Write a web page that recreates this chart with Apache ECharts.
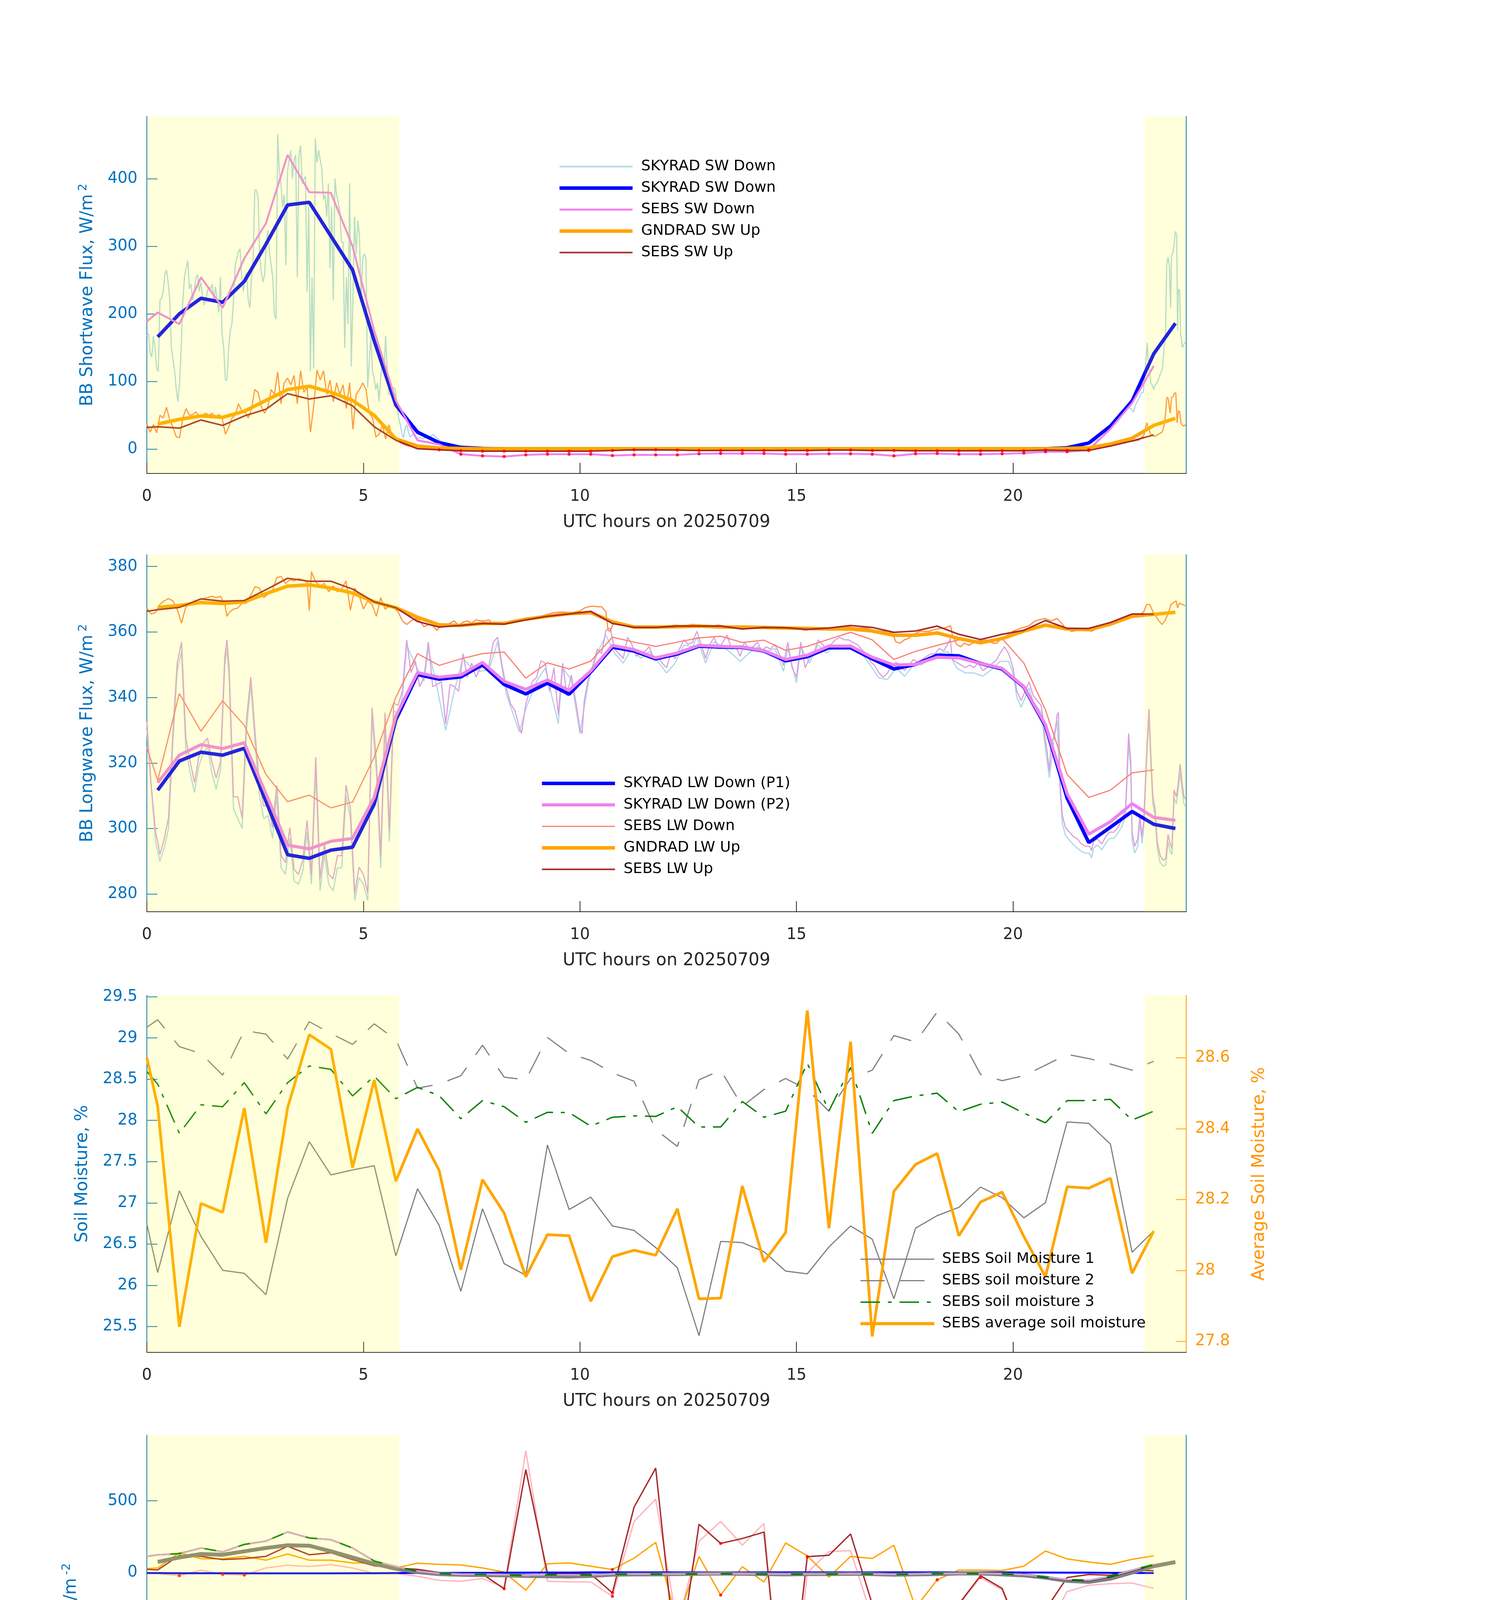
<!DOCTYPE html>
<html><head><meta charset="utf-8">
<script src="https://cdn.jsdelivr.net/npm/echarts@6/dist/echarts.min.js"></script>
<style>html,body{margin:0;padding:0;background:#fff}#c{width:3825px;height:4875px}</style>
</head><body><div id="c"></div>
<script>
// ---------- time bases ----------
const HH = []; for (let i = 0; i < 48; i++) HH.push(0.25 + 0.5 * i);   // half-hour centres 0.25 .. 23.75
const T0 = [0].concat(HH.slice(0, 47));                                 // SEBS / ECOR times 0, 0.25 .. 23.25
const SHADE = [[0, 5.83], [23.04, 24]];
const X_TICKS = [0, 5, 10, 15, 20];

// ---------- panel 1 : shortwave ----------
const DT_SW_THIN = 0.03776;
const skySWthin = [167,171,143,136,167,150,119,115,220,223,233,258,265,247,220,150,133,115,88,70,
 98,150,220,254,268,279,237,244,220,233,254,258,233,247,227,213,220,233,240,237,
 244,220,240,220,202,254,171,150,102,102,150,175,185,220,272,282,292,296,254,233,
 254,261,220,209,254,282,383,383,372,289,261,247,258,303,324,289,272,254,199,192,
 466,410,393,358,376,272,410,428,442,400,428,435,254,435,449,393,400,403,233,358,
 115,254,119,459,424,442,428,414,369,376,344,393,268,358,220,400,376,365,351,306,
 306,150,254,185,393,122,220,344,289,338,317,220,282,289,282,91,129,167,115,105,
 88,98,70,105,133,115,167,115,81,81,88,91,88,63,46,36,22,17,32,36,
 25,18,20,22,18,15,16,17,16,15,17,18,19,17,20,22,19,17,15,13];
const skySWthinTail = [[6.8,10],[6.9,8],[7.0,6],[7.2,4],[7.5,2],[7.8,1],[8.5,0.5],[10,0.3],[12,0.3],[14,0.3],[16,0.3],[18,0.3],[20,0.3],[20.8,0.6],[21.2,1.5],[21.5,4],[21.8,9],[22.0,16],[22.2,26],[22.4,40],[22.55,52],[22.65,62],[22.72,60],[22.78,55],[22.84,67],[22.90,74],[22.96,83],[23.01,84],[23.04,109],[23.07,133],[23.10,157],[23.12,133],[23.15,119],[23.18,98],[23.21,95],[23.25,88],[23.28,95],[23.33,98],[23.39,109],[23.45,119],[23.49,150],[23.52,168],[23.55,272],[23.58,284],[23.61,272],[23.64,209],[23.66,286],[23.69,289],[23.72,303],[23.75,322],[23.78,317],[23.80,175],[23.82,237],[23.85,234],[23.87,168],[23.89,164],[23.91,150],[23.94,154],[23.99,159]];
const DT_GND_THIN = 0.07553;
const gndSWthin = [37,25,36,24,50,46,62,43,32,18,17,46,60,50,51,55,48,50,53,50,53,46,51,46,22,32,46,50,67,57,55,46,60,88,84,63,53,63,88,81,114,67,98,105,95,109,67,116,84,91,25,63,117,102,116,81,102,70,98,81,95,60,98,29,81,88,98,88,53,46,18,22,36,15,36,18,15,11,8,6,4.5,4.5,4,3.5,3];
const gndSWthinTail = [[6.5,2.5],[7,1],[8,0.5],[12,0.5],[16,0.5],[20,0.5],[21.5,1.5],[22,4],[22.4,9],[22.75,11.6],[22.90,13],[23.02,20],[23.09,39],[23.12,32],[23.18,22],[23.27,18.6],[23.36,22],[23.45,25.5],[23.49,36],[23.52,50],[23.55,76],[23.58,76],[23.63,53],[23.66,76],[23.70,78],[23.73,83],[23.76,83],[23.79,39],[23.82,57],[23.85,55],[23.88,38],[23.93,34],[23.99,36]];
const skySW = [166,200,223,217,248,303,361,365,315,265,160,65,25,9.5,2.5,1,
 0.3,0.3,0.3,0.3,0.3,0.3,0.3,0.3,0.3,0.3,0.3,0.3,0.3,0.3,0.3,0.3,0.3,0.3,0.3,0.3,0.3,0.3,0.3,0.3,0.3,
 0.5,2,9,34,71,141,186];
const sebsSWdown = [189,202,185,254,209,282,334,435,380,379,300,175,72,13,7,-7.5,-10,-11,-8.5,-7.5,-7.5,-7.5,-9.5,-8.5,-8.5,-8.5,-7,-6.5,-6.5,-6.5,-7.5,-7.5,-7,-7,-7.5,-10,-7,-6.5,-7.5,-7.5,-7,-6,-4,-4,-1,30,68,123];
const gndSW = [37,44,49,47,56,72,88,93,84,72,50,15,4.5,1.5,1,0.6,
 0.5,0.5,0.5,0.5,0.5,0.5,0.5,0.5,0.5,0.5,0.5,0.5,0.5,0.5,0.5,0.5,0.5,0.5,0.5,0.5,0.5,0.5,0.5,0.5,0.5,
 0.6,1,2,7.5,16,35,45.5];
const sebsSWup = [32,33,31,43,35,49,59,82,74,79,64,33,13,0.5,-1,-2.5,-3,-3,-3,-3,-3,-3,-2,-1,-1,-1.5,-2,-2,-2,-2,-2,-2,-1.5,-1.5,-2,-2,-2.5,-2.5,-2.5,-2.5,-2.5,-2.5,-1.5,-2,-2,4.5,12,21];

// ---------- panel 2 : longwave ----------
const lwP2thin = [[0,332.6],[0.1,313.2],[0.2,298.9],[0.25,296],[0.3,292],[0.4,296.8],[0.5,303.2],[0.6,329.0],[0.7,350.5],[0.8,356.9],[0.9,327.6],[1.0,320.4],[1.1,314.0],[1.2,321.8],[1.3,326.1],[1.4,327.6],[1.5,320.4],[1.6,315.4],[1.7,320.4],[1.8,352.6],[1.85,357.6],[1.9,349.1],[2.0,309.7],[2.1,309.7],[2.2,303.2],[2.3,333.3],[2.4,346.2],[2.5,329.0],[2.6,313.2],[2.7,306.8],[2.8,307.5],[2.9,300.3],[3.0,313.2],[3.1,291.7],[3.2,289.6],[3.3,300.3],[3.4,287.5],[3.5,286.0],[3.6,290.3],[3.7,302.5],[3.8,286.0],[3.9,321.8],[4.0,284.6],[4.1,295.3],[4.2,286.0],[4.3,284.6],[4.4,291.7],[4.5,291.7],[4.6,313.2],[4.7,306.1],[4.8,280.3],[4.9,288.2],[5.0,286.0],[5.1,280.3],[5.2,336.9],[5.3,320.4],[5.4,291.7],[5.5,335.4],[5.6,299.6],[5.7,338.3],[5.8,337.6],[5.9,341.9],[6.0,357.6],[6.1,347.6],[6.2,351.2],[6.3,343.3],[6.4,346.2],[6.5,356.9],[6.6,343.3],[6.7,344.0],[6.8,344.8],[6.9,331.9],[7.0,344.0],[7.1,343.3],[7.2,341.9],[7.3,353.4],[7.4,346.2],[7.5,350.5],[7.6,346.2],[7.7,349.1],[7.8,349.1],[7.9,349.8],[8.0,356.9],[8.1,358.4],[8.2,350],[8.3,343],[8.4,338],[8.5,336],[8.6,331],[8.65,329],[8.75,338],[8.9,344.8],[9.0,346.2],[9.1,351.2],[9.2,350.5],[9.3,341.9],[9.4,349.1],[9.5,334.7],[9.6,350.5],[9.7,340.5],[9.8,346.9],[9.9,339.0],[10.0,330.4],[10.05,329.0],[10.1,339.0],[10.2,346.2],[10.3,349.8],[10.4,354.8],[10.5,353.4],[10.6,360.5],[10.7,361.2],[10.8,354.8],[10.9,353.4],[11.0,351.9],[11.1,358.4],[11.2,356.2],[11.3,352.6],[11.4,353.4],[11.5,354.1],[11.6,355.5],[11.7,351.9],[11.8,352.6],[11.9,350.5],[12.0,349.1],[12.1,353.4],[12.2,351.9],[12.3,354.8],[12.4,357.6],[12.5,356.2],[12.6,356.9],[12.7,360.2],[12.8,356.2],[12.9,351.9],[13.0,356.2],[13.1,358.4],[13.2,354.8],[13.3,356.9],[13.4,359.1],[13.5,354.8],[13.6,355.5],[13.7,352.6],[13.8,356.9],[13.9,354.8],[14.0,355.5],[14.1,356.9],[14.2,354.1],[14.3,355.5],[14.4,354.8],[14.5,356.2],[14.6,353.4],[14.7,349.8],[14.8,356.9],[14.9,349.1],[15.0,346.2],[15.1,356.9],[15.2,349.1],[15.3,351.9],[15.4,353.4],[15.5,357.6],[15.6,356.2],[15.7,354.8],[15.8,356.2],[15.9,357.6],[16.0,358.4],[16.1,357.6],[16.2,357.6],[16.3,356.9],[16.4,356.2],[16.5,354.8],[16.6,353.4],[16.7,351.2],[16.8,349.8],[16.9,347.6],[17.0,346.2],[17.1,347.4],[17.2,349.9],[17.3,350.7],[17.4,349.9],[17.5,348.2],[17.6,349.9],[17.7,351.6],[17.8,350.7],[17.9,351.6],[18.0,352.5],[18.1,353.3],[18.2,353.3],[18.3,355.0],[18.4,354.2],[18.5,356.5],[18.55,358],[18.6,351.6],[18.7,350.7],[18.8,349.9],[18.9,349.1],[19.0,349.9],[19.1,349.1],[19.2,350.7],[19.3,348.2],[19.4,349.1],[19.5,350.2],[19.6,351.2],[19.7,353.4],[19.8,355.5],[19.9,353.4],[20.0,349.1],[20.09,341.9],[20.19,339.0],[20.28,341.9],[20.37,344.8],[20.47,340.5],[20.56,339.0],[20.65,337.6],[20.70,333.3],[20.74,327.6],[20.79,323.3],[20.84,317.5],[20.88,326.1],[20.93,327.6],[20.98,330.4],[21.02,334.7],[21.05,335.4],[21.09,313.2],[21.14,303.9],[21.21,300.3],[21.30,298.9],[21.40,297.5],[21.49,296.8],[21.58,295.3],[21.67,294.6],[21.77,294.6],[21.81,293.2],[21.86,296.0],[21.95,296.8],[22.05,295.3],[22.14,297.5],[22.23,298.9],[22.33,298.9],[22.42,300.3],[22.51,302.5],[22.60,306.1],[22.67,329.0],[22.72,320.4],[22.75,298.9],[22.81,294.6],[22.88,296.8],[22.93,303.9],[22.98,297.5],[23.02,302.5],[23.09,324.5],[23.14,336.5],[23.19,320.4],[23.23,309.7],[23.28,306.1],[23.33,296.0],[23.40,291.7],[23.47,290.3],[23.53,291.0],[23.58,298.2],[23.63,295.3],[23.67,293.9],[23.72,311.8],[23.77,309.7],[23.81,313.2],[23.86,319.7],[23.91,313.2],[23.95,309.7],[23.99,308.9]];
const lwP1thin = [[0,330],[0.2,296],[0.3,290],[0.4,294],[0.5,300],[0.6,326],[0.7,348],[0.8,354],[0.9,324],[1.0,317],[1.1,311],[1.2,319],[1.3,323],[1.4,325],[1.5,317],[1.6,312],[1.7,318],[1.8,350],[1.85,355],[1.9,346],[2.0,306],[2.2,300],[2.3,330],[2.4,344],[2.5,326],[2.6,310],[2.7,303],[2.8,304],[2.9,297],[3.0,310],[3.1,288],[3.2,286],[3.3,297],[3.4,284],[3.5,283],[3.6,287],[3.7,299],[3.8,283],[3.9,318],[4.0,281],[4.1,292],[4.2,283],[4.3,281],[4.4,288],[4.5,288],[4.6,310],[4.7,303],[4.8,278],[4.9,285],[5.0,283],[5.1,278],[5.2,334],[5.3,317],[5.4,288],[5.5,332],[5.6,296],[5.7,336],[5.8,335],[5.9,340],[6.0,356],[6.2,350],[6.4,345],[6.5,355],[6.7,343],[6.9,330],[7.1,342],[7.3,352],[7.5,349],[7.7,348],[7.9,348.5],[8.1,357],[8.3,341],[8.6,329.5],[8.75,336.5],[9.0,345],[9.2,349],[9.5,332],[9.6,349],[9.8,345.5],[10.0,329],[10.2,345],[10.4,353.5],[10.6,359],[10.8,353.5],[11.0,350.5],[11.2,355],[11.4,352],[11.6,354],[11.8,351],[12.0,347.5],[12.2,350.5],[12.4,356],[12.6,355.5],[12.7,358.5],[12.9,350.5],[13.1,357],[13.3,355.5],[13.5,353.5],[13.7,351],[13.9,353.5],[14.1,355.5],[14.3,354],[14.5,355],[14.7,348],[14.8,355],[15.0,344.5],[15.1,355.5],[15.3,350.5],[15.5,356],[15.7,353.5],[15.9,356],[16.1,356],[16.3,355.5],[16.5,353.5],[16.7,350],[16.9,346],[17.1,345.5],[17.3,349],[17.5,346.5],[17.7,350],[17.9,350],[18.1,352],[18.3,353.5],[18.5,354],[18.7,349],[18.9,347.5],[19.1,347.5],[19.3,346.5],[19.5,348.5],[19.7,351],[19.9,351],[20.0,347.5],[20.09,340],[20.19,337],[20.28,340],[20.37,343],[20.47,338.5],[20.56,337],[20.65,335.5],[20.74,325.5],[20.84,315.5],[20.93,325.5],[21.02,333],[21.09,311],[21.14,301.5],[21.21,298],[21.30,296.5],[21.40,295],[21.49,294],[21.58,293],[21.67,292.5],[21.77,292.5],[21.81,291],[21.86,294],[21.95,295],[22.05,293.5],[22.14,295.5],[22.23,297],[22.33,297],[22.42,298.5],[22.51,300.5],[22.60,304],[22.67,326],[22.72,318],[22.75,296.5],[22.81,292.5],[22.88,294.5],[22.93,302],[22.98,295.5],[23.02,300.5],[23.09,322],[23.14,334],[23.19,318],[23.23,307.5],[23.28,304],[23.33,294],[23.40,289.5],[23.47,288.5],[23.53,289],[23.58,296],[23.63,293],[23.67,292],[23.72,309.5],[23.77,307.5],[23.81,311],[23.86,317],[23.91,311],[23.95,307.5],[23.99,306.5]];
const gndLWthin = [[0,367.3],[0.1,365.5],[0.2,365.9],[0.3,368.4],[0.4,369.5],[0.5,370.2],[0.6,369.5],[0.7,367.0],[0.8,362.7],[0.9,367.7],[1.0,368.4],[1.1,369.5],[1.2,369.8],[1.3,370.2],[1.4,370.5],[1.5,370.9],[1.6,370.5],[1.7,370.9],[1.8,368.4],[1.85,364.8],[1.9,365.9],[2.0,367.0],[2.1,367.3],[2.2,368.8],[2.3,368.8],[2.4,371.3],[2.5,373.8],[2.6,373.4],[2.7,370.5],[2.8,371.6],[2.9,372.7],[3.0,376.6],[3.1,377.0],[3.2,374.8],[3.3,375.9],[3.4,375.6],[3.5,376.3],[3.6,375.9],[3.7,375.2],[3.75,366.6],[3.8,378.4],[3.9,375.2],[4.0,374.1],[4.1,374.8],[4.2,372.3],[4.3,374.1],[4.4,372.3],[4.5,373.1],[4.6,375.6],[4.7,366.6],[4.8,373.4],[4.9,371.3],[5.0,367.0],[5.1,369.5],[5.2,368.4],[5.3,364.8],[5.4,370.5],[5.5,367.0],[5.6,368.0],[5.7,367.3],[5.8,366.2],[5.9,363.4],[6.0,362.3],[6.1,363.4],[6.2,364.1],[6.3,363.4],[6.4,361.6],[6.5,362.3],[6.6,361.9],[6.7,360.5],[6.8,362.3],[6.9,361.9],[7.0,362.7],[7.1,363.4],[7.2,361.9],[7.3,363.0],[7.4,363.4],[7.5,362.7],[7.6,363.7],[7.7,363.4],[7.8,363.4],[7.9,363.7],[8.0,362.3],[8.1,363.0],[8.25,362.5],[8.5,363.5],[8.75,364],[8.9,364.1],[9.0,364.5],[9.2,365.2],[9.4,365.9],[9.6,366.1],[9.8,365.9],[10.0,366.4],[10.1,367.3],[10.2,367.7],[10.3,367.9],[10.4,367.7],[10.5,367.7],[10.6,366.2],[10.65,360.5],[10.7,360.2],[10.75,361.9],[10.8,363.0],[11.0,362.3],[11.2,361.8],[11.4,361.2],[11.6,361.4],[11.8,361.6],[12.0,361.8],[12.2,362.1],[12.4,361.9],[12.6,362.3],[12.8,362.1],[13.0,361.8],[13.2,362.1],[13.4,361.6],[13.6,361.6],[13.8,361.2],[14.0,361.6],[14.2,361.2],[14.4,361.4],[14.6,360.9],[14.8,361.2],[15.0,361.1],[15.2,360.5],[15.4,361.2],[15.6,360.9],[15.8,361.2],[16.0,361.4],[16.2,361.6],[16.4,361.2],[16.6,361.2],[16.8,360.5],[17.0,360.2],[17.12,360.2],[17.21,359.8],[17.30,356.9],[17.40,356.6],[17.49,357.6],[17.58,358.0],[17.72,359.4],[17.86,360.2],[18.05,360.2],[18.23,360.9],[18.42,361.2],[18.56,361.9],[18.60,359.1],[18.70,356.2],[18.79,355.5],[18.88,356.6],[18.98,355.9],[19.07,356.6],[19.16,357.3],[19.26,356.9],[19.35,357.6],[19.44,357.3],[19.53,356.6],[19.63,356.6],[19.72,358.0],[19.81,358.4],[19.91,359.4],[20.00,360.2],[20.19,361.2],[20.37,361.9],[20.51,363.4],[20.60,363.7],[20.74,364.1],[20.88,363.4],[21.02,364.1],[21.12,362.7],[21.21,361.2],[21.35,360.2],[21.49,360.5],[21.67,360.9],[21.81,360.2],[21.95,361.2],[22.09,361.6],[22.23,362.7],[22.37,363.4],[22.51,363.7],[22.65,364.8],[22.79,365.2],[22.93,365.2],[23.02,366.2],[23.09,368.4],[23.16,368.4],[23.23,366.2],[23.30,364.8],[23.37,363.4],[23.44,362.3],[23.51,363.4],[23.58,365.5],[23.65,368.4],[23.72,369.1],[23.77,369.5],[23.80,367.3],[23.84,368.8],[23.91,368.4],[23.98,368.0]];
const skyLWp1 = [311.7,320.6,323.3,322.4,324.5,308.3,292.0,290.9,293.4,294.3,307.5,333.2,347.0,345.6,346.3,350.0,344.0,341.1,344.4,341.0,347.8,355.4,354.2,351.8,353.3,355.7,355.4,355.3,354.2,351.2,352.5,355.2,355.2,351.8,348.7,350.1,352.9,352.7,350.4,348.7,343.2,331.3,309.3,295.7,300.4,305.2,301.3,300.0];
const skyLWp2 = [314.0,322.4,325.6,324.4,326.2,310.6,294.9,293.8,296.1,297.0,309.5,334.3,347.6,346.2,346.9,350.7,344.9,342.5,345.3,342.2,348.1,355.9,354.6,352.1,353.6,355.9,355.6,355.4,354.3,351.6,352.9,355.7,355.7,352.3,349.9,350.1,352.3,352.1,350.4,348.9,343.3,331.7,310.6,298.3,302.1,307.6,303.4,302.5];
const sebsLWdown = [324.7,314.7,341.2,329.7,339.0,331.5,316.5,308.2,310.2,306.3,308.1,321.8,340.1,353.4,349.8,351.8,353.4,353.9,345.9,350.6,348.7,351.1,358.4,356.9,355.6,356.9,358.2,358.7,356.8,357.5,354.4,355.6,357.8,359.9,357.6,351.6,354.1,355.9,357.6,357.3,358.0,350.5,336.2,316.5,309.5,311.7,317.0,317.9];
const gndLW = [367.5,368.1,369.0,368.7,369.2,371.7,374.0,374.4,373.4,371.9,369.2,367.4,364.5,362.2,362.0,362.6,362.6,363.9,364.8,365.6,365.9,363.1,361.5,361.5,361.6,361.8,361.5,361.5,361.4,361.2,361.1,360.9,360.9,360.3,359.0,359.0,359.7,358.0,356.7,358.0,360.3,362.1,360.9,360.7,362.4,364.8,365.4,366.0];
const sebsLWup = [366.3,366.8,367.5,370.1,369.4,369.6,372.9,376.4,375.5,375.5,373.1,369.2,367.4,363.2,361.5,362.0,362.6,362.4,363.7,364.8,365.5,366.3,362.6,361.4,361.4,361.8,361.8,361.8,360.9,361.4,361.3,360.8,361.2,362.0,361.4,359.9,360.3,361.8,359.3,357.7,359.3,360.5,363.5,361.1,361.1,362.9,365.5,365.4];

// ---------- panel 3 : soil moisture ----------
const sm1 = [26.744,26.155,27.147,26.592,26.182,26.145,25.887,27.056,27.742,27.339,27.399,27.450,26.357,27.171,26.727,25.927,26.929,26.263,26.122,27.702,26.919,27.070,26.720,26.666,26.458,26.213,25.389,26.532,26.518,26.408,26.172,26.139,26.465,26.720,26.559,25.836,26.693,26.845,26.945,27.191,27.063,26.818,27.003,27.981,27.964,27.712,26.401,26.660];
const sm2 = [29.130,29.221,28.895,28.811,28.549,29.090,29.046,28.744,29.197,29.053,28.922,29.171,28.979,28.391,28.441,28.542,28.912,28.525,28.492,29.006,28.811,28.727,28.576,28.475,27.887,27.685,28.492,28.609,28.172,28.374,28.508,28.374,28.112,28.508,28.609,29.029,28.952,29.315,29.046,28.559,28.482,28.542,28.670,28.801,28.750,28.683,28.609,28.717];
const sm3 = [28.592,28.441,27.843,28.189,28.166,28.458,28.079,28.458,28.660,28.619,28.297,28.536,28.263,28.401,28.300,28.021,28.240,28.166,27.977,28.098,28.095,27.930,28.038,28.055,28.048,28.166,27.920,27.920,28.229,28.038,28.112,28.693,28.115,28.643,27.843,28.240,28.297,28.330,28.105,28.196,28.223,28.088,27.971,28.240,28.240,28.256,28.004,28.112];
const smAvg = [28.600,28.463,27.841,28.189,28.164,28.458,28.078,28.459,28.665,28.624,28.290,28.537,28.252,28.399,28.282,28.002,28.256,28.162,27.982,28.101,28.098,27.913,28.039,28.057,28.043,28.174,27.920,27.922,28.238,28.024,28.107,28.733,28.119,28.645,27.814,28.223,28.299,28.330,28.098,28.193,28.221,28.096,27.982,28.236,28.232,28.260,27.992,28.111];

// ---------- panel 4 : surface fluxes ----------
const ecorSens = [-3,-7,-22,16,-13,-18,32,51,42,55,32,-7,-7,-26,-55,-61,-42,-104,848,-61,-65,-66,-166,356,511,-368,218,356,191,342,-1419,-3,147,152,-320,-930,-190,-489,-225,-35,-122,-535,-411,-133,-89,-78,-73,-111];
const ecorLat = [28,32,138,96,96,113,86,129,86,86,67,65,32,65,57,53,32,3,-123,61,67,44,21,100,210,-345,112,-157,40,-66,206,116,-32,112,98,190,-244,-51,17,17,14,44,150,95,73,57,92,116];
const ecorSum = [22,18,119,113,90,97,113,183,124,138,90,47,32,22,0,-16,-11,-113,718,-7,-7,-11,-142,456,728,-703,337,203,237,282,-1210,111,120,269,-220,-739,-418,-536,-220,-22,-111,-490,-259,-35,-14,-19,16,13];
const soilHeat = [-4,-4,-5,-5,-5,-6,-6,-6,-6,-6,-5,-5,-4,-3,-3,-2,-2,-1,-1,0,0,1,1,1,1,1,1,1,1,1,1,1,1,1,1,1,1,1,1,1,1,0,0,-1,-1,-2,-3,-4];
const netRadSkyGnd = [74,105,129,124,148,171,190,187,148,105,61,26,3,-11,-16,-18,-20,-24,-26,-28,-24,-15,-13,-13,-11,-9,-7,-9,-11,-13,-11,-11,-9,-11,-15,-13,-11,-7,-7,-13,-20,-36,-58,-66,-43,0,44,73];
const sebsNet = [113,123,132,171,144,196,219,283,241,229,171,80,42,9,-7,-13,-13,-15,-20,-16,-16,-18,-11,-11,-11,-11,-9,-9,-9,-11,-11,-11,-11,-9,-11,-13,-11,-8,-8,-8,-9,-18,-36,-53,-58,-31,12,53];
const sebsEbal = [113,123,132,171,144,196,219,283,241,229,171,80,42,9,-7,-13,-13,-15,-20,-16,-16,-18,-11,-11,-11,-11,-9,-9,-9,-11,-11,-11,-11,-9,-11,-13,-11,-8,-8,-8,-9,-16,-32,-49,-54,-27,16,57];
const sebsNetSoil = [113,123,132,171,144,196,219,283,241,229,171,80,42,9,-7,-13,-13,-15,-20,-16,-16,-18,-11,-11,-11,-11,-9,-9,-9,-11,-11,-11,-11,-9,-11,-13,-11,-8,-8,-8,-9,-16,-32,-49,-54,-27,16,57];
const SENS_FLAG = [0.75,1.75,2.25,10.75,12.25,14.75,16.75,17.25,18.25,19.25,20.25,20.75];
const LAT_FLAG = [10.75,12.25,13.25,18.25];
const SUM_FLAG = [8.25,10.75,12.25,13.25,14.75,15.25,16.75,17.25,18.25,20.25,20.75];

// ---------- helpers ----------
const zip = (t, v) => v.map((y, i) => [t[i], y]);
const dense = (dt, v) => v.map((y, i) => [Math.round(i * dt * 10000) / 10000, y]);
const pick = (flags, vals) => flags.map(h => [h, vals[T0.indexOf(h)]]);
const FONT = 'DejaVu Sans';
const BLUE = '#0072bd';
const AXC = '#262626';
const RORANGE = '#ff9500';
const TOPS = [298, 1420, 2548, 3674];
const GH = 914, GL = 376, GW = 2661;
const fmt = v => String(+v.toFixed(2));

const YL = [
  {min: -36, max: 492, ticks: [0,100,200,300,400], name: 'BB Shortwave Flux, W/m{s|2}', gap: 124},
  {min: 274.6, max: 383.6, ticks: [280,300,320,340,360,380], name: 'BB Longwave Flux, W/m{s|2}', gap: 124},
  {min: 25.187, max: 29.517, ticks: [25.5,26,26.5,27,27.5,28,28.5,29,29.5], name: 'Soil Moisture, %', gap: 142},
  {min: -1532, max: 958, ticks: [-1500,-1000,-500,0,500], name: 'Flux, W/m{s|-2}', gap: 166}
];

const xAxes = TOPS.map((t, i) => ({
  gridIndex: i, type: 'value', min: 0, max: 24,
  axisLine: {show: true, onZero: false, lineStyle: {color: AXC, width: 2}},
  axisTick: {show: true, inside: true, length: 27, customValues: X_TICKS, lineStyle: {color: AXC, width: 2}},
  axisLabel: {customValues: X_TICKS, color: AXC, fontSize: 40, fontFamily: FONT, margin: 40},
  splitLine: {show: false},
  name: 'UTC hours on 20250709', nameLocation: 'middle', nameGap: 104,
  nameTextStyle: {fontSize: 44, color: AXC, fontFamily: FONT}
}));

const yAxes = [];
YL.forEach((c, i) => {
  yAxes.push({
    gridIndex: i, type: 'value', position: 'left', min: c.min, max: c.max,
    axisLine: {show: true, onZero: false, lineStyle: {color: BLUE, width: 2}},
    axisTick: {show: true, inside: true, length: 27, customValues: c.ticks, lineStyle: {color: BLUE, width: 2}},
    axisLabel: {customValues: c.ticks, color: BLUE, fontSize: 40, fontFamily: FONT, margin: 24, formatter: fmt},
    splitLine: {show: false},
    name: c.name, nameLocation: 'middle', nameRotate: 90, nameGap: c.gap,
    nameTextStyle: {fontSize: 44, color: BLUE, fontFamily: FONT,
      rich: {s: {fontSize: 30, color: BLUE, fontFamily: FONT, padding: [0, 0, 24, 8]}}}
  });
  if (i === 2) {
    const rt = [27.8, 28, 28.2, 28.4, 28.6];
    yAxes.push({
      gridIndex: i, type: 'value', position: 'right', min: 27.769, max: 28.776,
      axisLine: {show: true, onZero: false, lineStyle: {color: RORANGE, width: 2}},
      axisTick: {show: true, inside: true, length: 27, customValues: rt, lineStyle: {color: RORANGE, width: 2}},
      axisLabel: {customValues: rt, color: RORANGE, fontSize: 40, fontFamily: FONT, margin: 23, formatter: fmt},
      splitLine: {show: false},
      name: 'Average Soil Moisture, %', nameLocation: 'middle', nameRotate: 90, nameGap: 166,
      nameTextStyle: {fontSize: 44, color: RORANGE, fontFamily: FONT}
    });
  } else {
    yAxes.push({
      gridIndex: i, type: 'value', position: 'right', min: c.min, max: c.max,
      axisLine: {show: true, onZero: false, lineStyle: {color: BLUE, width: 2}},
      axisTick: {show: false}, axisLabel: {show: false}, splitLine: {show: false}
    });
  }
});

function L(name, p, data, color, width, extra) {
  return Object.assign({
    name, type: 'line', xAxisIndex: p, yAxisIndex: 2 * p, data,
    showSymbol: false, symbol: 'none', silent: true, animation: false,
    lineStyle: {color, width}, itemStyle: {color}, emphasis: {disabled: true}
  }, extra || {});
}
function dots(p, data) {
  return {type: 'scatter', xAxisIndex: p, yAxisIndex: 2 * p, data, symbol: 'circle', symbolSize: 8,
    itemStyle: {color: '#ff0000'}, silent: true, animation: false, z: 4};
}
function shade(p) {
  return {type: 'line', xAxisIndex: p, yAxisIndex: 2 * p, data: [[0, YL[p].min]], symbol: 'none',
    lineStyle: {width: 0, opacity: 0}, silent: true, animation: false,
    markArea: {silent: true, z: 10, label: {show: false}, itemStyle: {color: 'rgba(255,255,0,0.14)'},
      data: SHADE.map(s => [{xAxis: s[0]}, {xAxis: s[1]}])}};
}

const swDots = zip(T0, sebsSWdown).filter(d => d[0] >= 7.2 && d[0] <= 21.8)
  .concat(zip(T0, sebsSWup).filter(d => d[0] >= 6.7 && d[0] <= 21.8));
const fluxDots = pick(SENS_FLAG, ecorSens).concat(pick(LAT_FLAG, ecorLat), pick(SUM_FLAG, ecorSum));

const series = [
  // panel 1
  L('SKYRAD SW Down', 0, dense(DT_SW_THIN, skySWthin).concat(skySWthinTail), '#add8e6', 3),
  L('gndThinSW', 0, dense(DT_GND_THIN, gndSWthin).concat(gndSWthinTail), '#ff8c42', 3),
  L('SKYRAD SW Down ', 0, zip(HH, skySW), '#0000ff', 9),
  L('SEBS SW Down', 0, zip(T0, sebsSWdown), '#ee82ee', 5),
  L('GNDRAD SW Up', 0, zip(HH, gndSW), '#ffa500', 9),
  L('SEBS SW Up', 0, zip(T0, sebsSWup), '#a52a2a', 4),
  dots(0, swDots),
  shade(0),
  // panel 2
  L('p1thin', 1, lwP1thin, '#add8e6', 3),
  L('p2thin', 1, lwP2thin, '#dda0dd', 3),
  L('gndThinLW', 1, gndLWthin, '#ff8c42', 3),
  L('SKYRAD LW Down (P1)', 1, zip(HH, skyLWp1), '#0000ff', 9),
  L('SKYRAD LW Down (P2)', 1, zip(HH, skyLWp2), '#ee82ee', 8),
  L('SEBS LW Down', 1, zip(T0, sebsLWdown), '#fa8072', 3),
  L('GNDRAD LW Up', 1, zip(HH, gndLW), '#ffa500', 9),
  L('SEBS LW Up', 1, zip(T0, sebsLWup), '#a52a2a', 4),
  shade(1),
  // panel 3
  L('SEBS Soil Moisture 1', 2, zip(T0, sm1), '#808080', 3),
  L('SEBS soil moisture 2', 2, zip(T0, sm2), '#808080', 3, {lineStyle: {color: '#808080', width: 3, type: [62, 40]}}),
  L('SEBS soil moisture 3', 2, zip(T0, sm3), '#008000', 3.5, {lineStyle: {color: '#008000', width: 3.5, type: [50, 20, 10, 20]}}),
  L('SEBS average soil moisture', 2, zip(T0, smAvg), '#ffa500', 7, {yAxisIndex: 5}),
  shade(2),
  // panel 4
  L('ECOR sensible heat flux', 3, zip(T0, ecorSens), '#ffb6c1', 3.5),
  L('ECOR latent heat flux', 3, zip(T0, ecorLat), '#ffa500', 3.5),
  L('ECOR latent + sensible heat flux', 3, zip(T0, ecorSum), '#a52a2a', 3.5),
  L('SEBS soil heat flux', 3, zip(T0, soilHeat), '#0000ff', 5),
  L('SKY/GNDRAD net radiation', 3, zip(HH, netRadSkyGnd), '#808080', 10),
  L('SEBS net radiation', 3, zip(T0, sebsNet), '#000000', 3),
  L('SEBS "energy balance"', 3, zip(T0, sebsEbal), '#008000', 4),
  L('SEBS net rad + soil heat', 3, zip(T0, sebsNetSoil), '#dda0dd', 4, {lineStyle: {color: '#dda0dd', width: 4, type: [60, 30]}}),
  dots(3, fluxDots),
  shade(3)
];

const NOSYM = {color: 'rgba(0,0,0,0)', borderColor: 'rgba(0,0,0,0)', borderWidth: 0, opacity: 0};
function leg(left, top, w, pad, items) {
  return {
    show: true, orient: 'vertical', left, top, padding: 0, itemGap: 0,
    itemWidth: w, itemHeight: 20, selectedMode: false, itemStyle: NOSYM,
    textStyle: {fontSize: 38, fontFamily: FONT, color: '#000', lineHeight: 55, padding: [0, 0, 0, pad]},
    data: items.map(it => ({name: it[0], lineStyle: it[1], itemStyle: NOSYM}))
  };
}
const legends = [
  leg(1428, 399, 187, 17, [['SKYRAD SW Down', {width: 4}], ['SKYRAD SW Down ', {width: 9}], ['SEBS SW Down', {width: 5}], ['GNDRAD SW Up', {width: 9}], ['SEBS SW Up', {width: 4}]]),
  leg(1383, 1978, 187, 17, [['SKYRAD LW Down (P1)', {width: 9}], ['SKYRAD LW Down (P2)', {width: 8}], ['SEBS LW Down', {width: 3}], ['GNDRAD LW Up', {width: 9}], ['SEBS LW Up', {width: 4}]]),
  leg(2199, 3196, 189, 15, [['SEBS Soil Moisture 1', {width: 3}], ['SEBS soil moisture 2', {width: 3}], ['SEBS soil moisture 3', {width: 3.5}], ['SEBS average soil moisture', {width: 8}]]),
  leg(623, 4128, 187, 20, [['ECOR sensible heat flux', {width: 4}], ['ECOR latent heat flux', {width: 4}], ['ECOR latent + sensible heat flux', {width: 4}], ['SEBS soil heat flux', {width: 4}], ['SKY/GNDRAD net radiation', {width: 9}], ['SEBS net radiation', {width: 4}], ['SEBS "energy balance"', {width: 4}], ['SEBS net rad + soil heat', {width: 4}]])
];

const chart = echarts.init(document.getElementById('c'), null, {renderer: 'canvas', width: 3825, height: 4875});
chart.setOption({
  backgroundColor: '#ffffff',
  animation: false,
  textStyle: {fontFamily: FONT},
  grid: TOPS.map(t => ({left: GL, top: t, width: GW, height: GH, containLabel: false})),
  xAxis: xAxes,
  yAxis: yAxes,
  legend: legends,
  series
});
</script>
</body></html>
